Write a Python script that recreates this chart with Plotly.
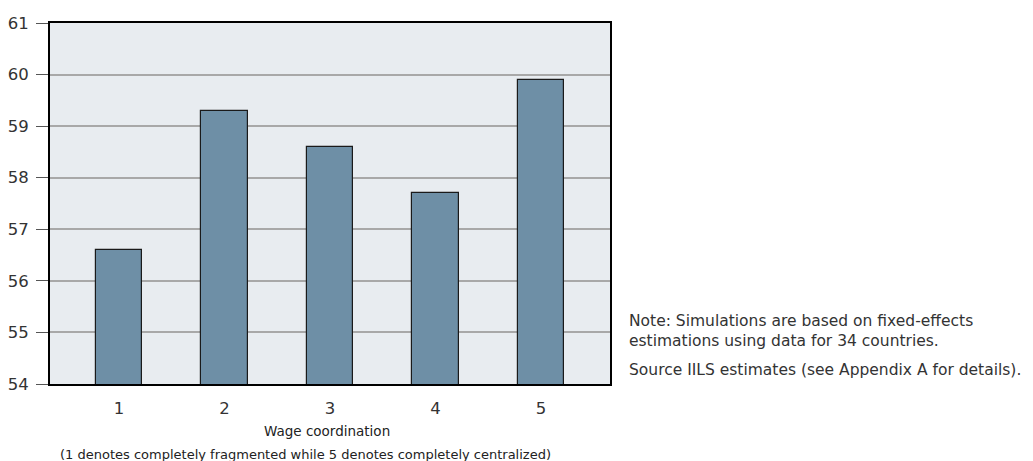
import plotly.graph_objects as go

# Wage coordination levels and simulated values
categories = [1, 2, 3, 4, 5]
values = [56.6, 59.3, 58.6, 57.7, 59.9]
y_ticks = [54, 55, 56, 57, 58, 59, 60, 61]

x_title = "Wage coordination"
x_subtitle = "(1 denotes completely fragmented while 5 denotes completely centralized)"
note_text = ("Note: Simulations are based on fixed-effects<br>"
             "estimations using data for 34 countries.")
source_text = "Source IILS estimates (see Appendix A for details)."

FONT = "DejaVu Sans, Liberation Sans, sans-serif"

fig = go.Figure()
fig.add_trace(go.Bar(
    x=categories,
    y=values,
    width=0.44,
    marker=dict(color="#6e8fa6", line=dict(color="#1a1a1a", width=1.2)),
    showlegend=False,
))

fig.update_xaxes(
    range=[0.345, 5.655],
    tickvals=categories,
    ticktext=[str(c) for c in categories],
    showgrid=False,
    ticks="",
    ticklabelstandoff=8,
    showline=True, linecolor="black", linewidth=2, mirror=True,
    tickfont=dict(size=16.5, color="#333"),
    automargin=False,
)
fig.update_yaxes(
    range=[54, 61],
    tickvals=y_ticks,
    showgrid=True, gridcolor="#a8a8a8", gridwidth=1.5,
    ticks="outside", ticklen=12, tickcolor="#555", tickwidth=1,
    ticklabelstandoff=4,
    showline=True, linecolor="black", linewidth=2, mirror=True,
    tickfont=dict(size=16.5, color="#333"),
    zeroline=False,
    automargin=False,
)

# x-axis title lines
fig.add_annotation(
    text=x_title, xref="paper", yref="paper", x=0.495, y=0, yshift=-47,
    xanchor="center", yanchor="middle", showarrow=False,
    font=dict(size=13.5, color="#222"),
)
fig.add_annotation(
    text=x_subtitle, xref="paper", yref="paper", x=0.457, y=0, yshift=-70,
    xanchor="center", yanchor="middle", showarrow=False,
    font=dict(size=13, color="#222"),
)

# Note and source on the right
fig.add_annotation(
    text=note_text, xref="paper", yref="paper", x=1.03, y=0.147,
    xanchor="left", yanchor="middle", showarrow=False, align="left",
    font=dict(size=15.5, color="#333"),
)
fig.add_annotation(
    text=source_text, xref="paper", yref="paper", x=1.03, y=0.039,
    xanchor="left", yanchor="middle", showarrow=False, align="left",
    font=dict(size=15.5, color="#333"),
)

fig.update_layout(
    width=1025, height=453,
    margin=dict(l=42, r=423, t=15, b=77),
    plot_bgcolor="#e8ecf0",
    paper_bgcolor="white",
    font=dict(family=FONT),
    bargap=0,
)

fig.write_html("out.html")
